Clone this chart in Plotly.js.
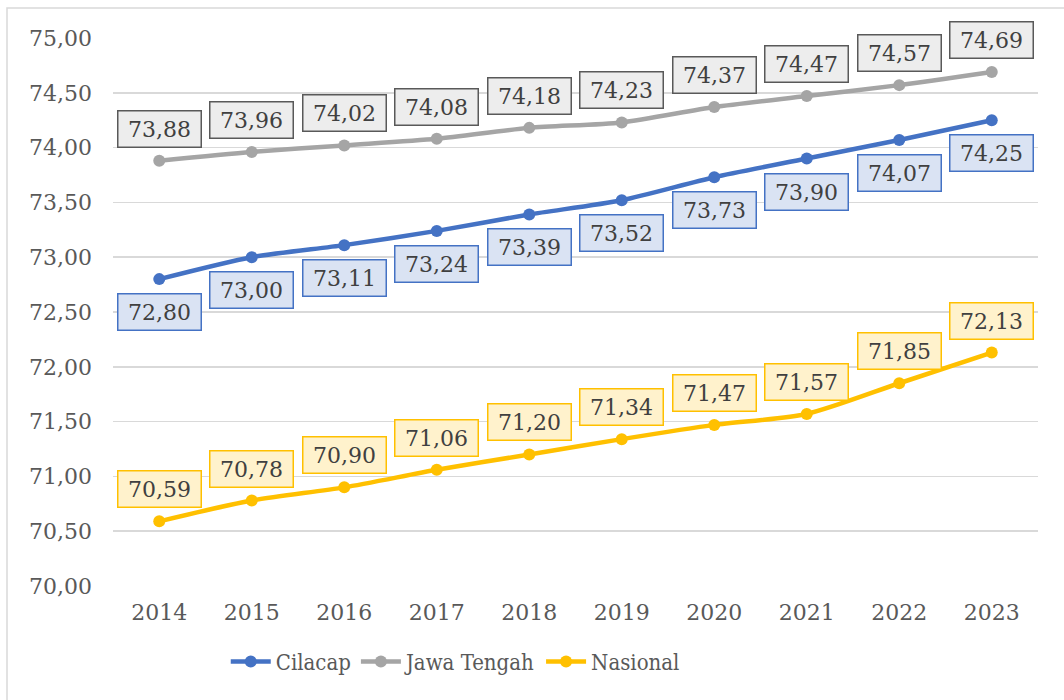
<!DOCTYPE html>
<html>
<head>
<meta charset="utf-8">
<script src="https://cdn.plot.ly/plotly-3.0.1.min.js"></script>
<style>html,body{margin:0;padding:0;background:#fff;}#chart{width:1064px;height:700px;}</style>
</head>
<body>
<div id="chart"></div>
<script>
const years = ['2014','2015','2016','2017','2018','2019','2020','2021','2022','2023'];
const cilacap = [72.80, 73.00, 73.11, 73.24, 73.39, 73.52, 73.73, 73.90, 74.07, 74.25];
const jawaTengah = [73.88, 73.96, 74.02, 74.08, 74.18, 74.23, 74.37, 74.47, 74.57, 74.69];
const nasional = [70.59, 70.78, 70.90, 71.06, 71.20, 71.34, 71.47, 71.57, 71.85, 72.13];
const yTicks = [70, 70.5, 71, 71.5, 72, 72.5, 73, 73.5, 74, 74.5, 75];

const FONT = '"DejaVu Serif", "Liberation Serif", serif';
const TXT = '#595959';

function mk(name, ys, color) {
  return {
    type: 'scatter', mode: 'lines+markers', name: name,
    x: years, y: ys,
    line: {color: color, width: 4.5, shape: 'spline', smoothing: 0.7},
    marker: {color: color, size: 12},
    hoverinfo: 'skip'
  };
}
const data = [
  mk('Cilacap', cilacap, '#4472C4'),
  mk('Jawa Tengah', jawaTengah, '#A5A5A5'),
  mk('Nasional', nasional, '#FFC000')
];

function fmt(v) { return v.toFixed(2).replace('.', ','); }
const annotations = [];
function addLabels(ys, shift, bg, border) {
  ys.forEach((v, i) => {
    annotations.push({
      x: i, y: v, xref: 'x', yref: 'y',
      text: fmt(v), showarrow: false, yshift: shift,
      font: {family: FONT, size: 22, color: '#404040'},
      bgcolor: bg, bordercolor: border, borderwidth: 1.5, borderpad: 3,
      width: 76, height: 29, align: 'center', valign: 'middle'
    });
  });
}
addLabels(jawaTengah, 32, '#EDEDED', '#595959');
addLabels(cilacap, -33, '#DAE3F3', '#4472C4');
addLabels(nasional, 32, '#FFF2CC', '#FFC000');

const layout = {
  width: 1064, height: 700,
  margin: {l: 113, r: 26, t: 38, b: 114},
  paper_bgcolor: '#ffffff', plot_bgcolor: '#ffffff',
  separators: ',.',
  font: {family: FONT, size: 22, color: TXT},
  showlegend: true,
  legend: {
    orientation: 'h', x: 0.37, xanchor: 'center', y: -0.1, yanchor: 'top',
    font: {family: '"DejaVu Serif Condensed", "Liberation Serif", serif', size: 22, color: TXT},
    itemwidth: 40, tracegroupgap: 0
  },
  xaxis: {
    type: 'category', range: [-0.5, 9.5], autorange: false,
    showgrid: false, zeroline: false, showline: false,
    ticks: '', tickfont: {family: FONT, size: 22, color: TXT},
    ticklabelstandoff: 11, fixedrange: true
  },
  yaxis: {
    range: [70, 75], autorange: false, tickvals: yTicks, tickformat: '.2f',
    showgrid: true, gridcolor: '#D9D9D9', gridwidth: 1.5,
    zeroline: false, showline: false, ticks: '',
    tickfont: {family: FONT, size: 22, color: TXT},
    ticklabelstandoff: 20, fixedrange: true
  },
  annotations: annotations,
  shapes: [{
    type: 'rect', xref: 'paper', yref: 'paper',
    x0: (7 - 113) / 925, x1: (1070 - 113) / 925,
    y0: (586 - 710) / 548, y1: (586 - 8) / 548,
    line: {color: '#D9D9D9', width: 1.5}, fillcolor: 'rgba(0,0,0,0)', layer: 'below'
  }]
};

Plotly.newPlot('chart', data, layout, {staticPlot: true, displayModeBar: false});
</script>
</body>
</html>
